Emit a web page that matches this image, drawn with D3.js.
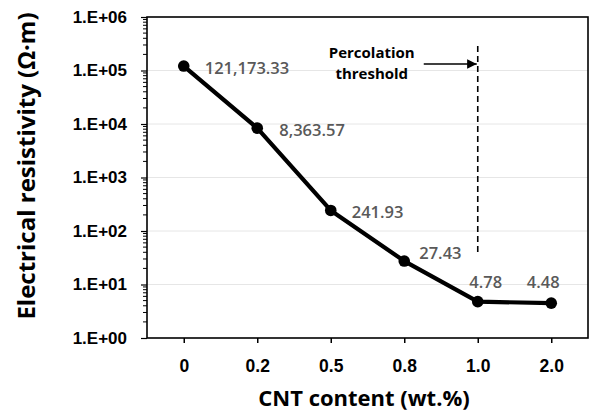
<!DOCTYPE html>
<html>
<head>
<meta charset="utf-8">
<script src="https://cdn.jsdelivr.net/npm/d3@7"></script>
<style>
  html, body { margin: 0; padding: 0; background: #fff; }
  svg { display: block; font-family: "Open Sans", "Noto Sans", sans-serif; }
</style>
</head>
<body>
<svg id="chart" width="593" height="415"></svg>
<script>
// CNT content categories (wt.%) and measured electrical resistivity (Ω·m)
const categories = ["0", "0.2", "0.5", "0.8", "1.0", "2.0"];
const resistivity = [121173.33, 8363.57, 241.93, 27.43, 4.78, 4.48];
const valueLabels = ["121,173.33", "8,363.57", "241.93", "27.43", "4.78", "4.48"];
const yTickValues = [1, 10, 100, 1000, 10000, 100000, 1000000];
const yTickLabels = ["1.E+00", "1.E+01", "1.E+02", "1.E+03", "1.E+04", "1.E+05", "1.E+06"];
const thresholdCategory = "1.0";
const thresholdText = ["Percolation", "threshold"];

// label placement relative to each point: [dx, dy, anchor]
const labelPlacement = [
  [21, 8, "start"], [22, 8, "start"], [21, 8, "start"],
  [15, -2, "start"], [8, -14, "middle"], [-8, -15, "middle"]
];

const svg = d3.select("#chart");
const m = { left: 147, right: 588, top: 17, bottom: 338 };

const x = d3.scalePoint().domain(categories).range([m.left, m.right]).padding(0.5);
const y = d3.scaleLog().domain([1, 1e6]).range([m.bottom, m.top]);

// horizontal gridlines at each decade
svg.append("g")
  .selectAll("line")
  .data(yTickValues.slice(1, -1))
  .join("line")
  .attr("x1", m.left).attr("x2", m.right)
  .attr("y1", d => y(d)).attr("y2", d => y(d))
  .attr("stroke", "#e6e6e6").attr("stroke-width", 1);

// minor log ticks on the value axis
const minor = [];
for (let e = 0; e < 6; e++) for (let k = 2; k <= 9; k++) minor.push(k * Math.pow(10, e));
svg.append("g")
  .selectAll("line")
  .data(minor)
  .join("line")
  .attr("x1", m.left - 4).attr("x2", m.left)
  .attr("y1", d => y(d)).attr("y2", d => y(d))
  .attr("stroke", "#000").attr("stroke-width", 1);

// value axis (major ticks)
const yAxis = d3.axisLeft(y)
  .tickValues(yTickValues)
  .tickFormat((d, i) => yTickLabels[i])
  .tickSize(6)
  .tickPadding(14);
const gy = svg.append("g").attr("transform", `translate(${m.left},0)`).call(yAxis);
gy.select(".domain").remove();
gy.selectAll(".tick line").attr("stroke", "#000").attr("stroke-width", 1.2);
gy.selectAll(".tick text")
  .attr("fill", "#000")
  .style("font-size", "17px")
  .style("font-weight", "700");

// category axis
const xAxis = d3.axisBottom(x).tickSize(5).tickPadding(17);
const gx = svg.append("g").attr("transform", `translate(0,${m.bottom})`).call(xAxis);
gx.select(".domain").remove();
gx.selectAll(".tick line").attr("stroke", "#000").attr("stroke-width", 1.5);
gx.selectAll(".tick text")
  .attr("fill", "#000")
  .style("font-size", "17.5px")
  .style("font-weight", "700");

// plot frame
svg.append("rect")
  .attr("x", m.left).attr("y", m.top)
  .attr("width", m.right - m.left).attr("height", m.bottom - m.top)
  .attr("fill", "none").attr("stroke", "#000").attr("stroke-width", 1.6);

// data line and markers
const pts = categories.map((c, i) => ({ c, v: resistivity[i], label: valueLabels[i], i }));
svg.append("path")
  .datum(pts)
  .attr("fill", "none")
  .attr("stroke", "#000")
  .attr("stroke-width", 4.2)
  .attr("stroke-linejoin", "round")
  .attr("d", d3.line().x(d => x(d.c)).y(d => y(d.v)));

svg.append("g")
  .selectAll("circle")
  .data(pts)
  .join("circle")
  .attr("cx", d => x(d.c)).attr("cy", d => y(d.v))
  .attr("r", 5.8).attr("fill", "#000");

svg.append("g")
  .selectAll("text")
  .data(pts)
  .join("text")
  .attr("x", d => x(d.c) + labelPlacement[d.i][0])
  .attr("y", d => y(d.v) + labelPlacement[d.i][1])
  .attr("text-anchor", d => labelPlacement[d.i][2])
  .attr("fill", "#595959")
  .style("font-size", "16.5px")
  .style("font-weight", "600")
  .text(d => d.label);

// percolation threshold marker
const tx = x(thresholdCategory);
svg.append("line")
  .attr("x1", tx).attr("x2", tx)
  .attr("y1", 46).attr("y2", 254)
  .attr("stroke", "#000").attr("stroke-width", 1.6)
  .attr("stroke-dasharray", "6,4");

svg.append("defs").append("marker")
  .attr("id", "arrowhead")
  .attr("viewBox", "0 0 10 10")
  .attr("refX", 10).attr("refY", 5)
  .attr("markerWidth", 8).attr("markerHeight", 6)
  .attr("markerUnits", "strokeWidth")
  .attr("orient", "auto")
  .append("path").attr("d", "M0,0 L10,5 L0,10 Z").attr("fill", "#000");

svg.append("line")
  .attr("x1", tx - 54).attr("x2", tx - 1)
  .attr("y1", 64).attr("y2", 64)
  .attr("stroke", "#000").attr("stroke-width", 1.6)
  .attr("marker-end", "url(#arrowhead)");

svg.append("g")
  .selectAll("text")
  .data(thresholdText)
  .join("text")
  .attr("x", tx - 106)
  .attr("y", (d, i) => 58 + i * 20.8)
  .attr("text-anchor", "middle")
  .attr("fill", "#000")
  .style("font-size", "15px")
  .style("font-weight", "700")
  .text(d => d);

// axis titles
svg.append("text")
  .attr("x", 364)
  .attr("y", 406)
  .attr("text-anchor", "middle")
  .attr("fill", "#000")
  .style("font-size", "22px")
  .style("font-weight", "700")
  .text("CNT content (wt.%)");

svg.append("text")
  .attr("transform", "translate(35,166) rotate(-90)")
  .attr("text-anchor", "middle")
  .attr("fill", "#000")
  .style("font-size", "24px")
  .style("font-weight", "700")
  .text("Electrical resistivity (Ω·m)");
</script>
</body>
</html>
